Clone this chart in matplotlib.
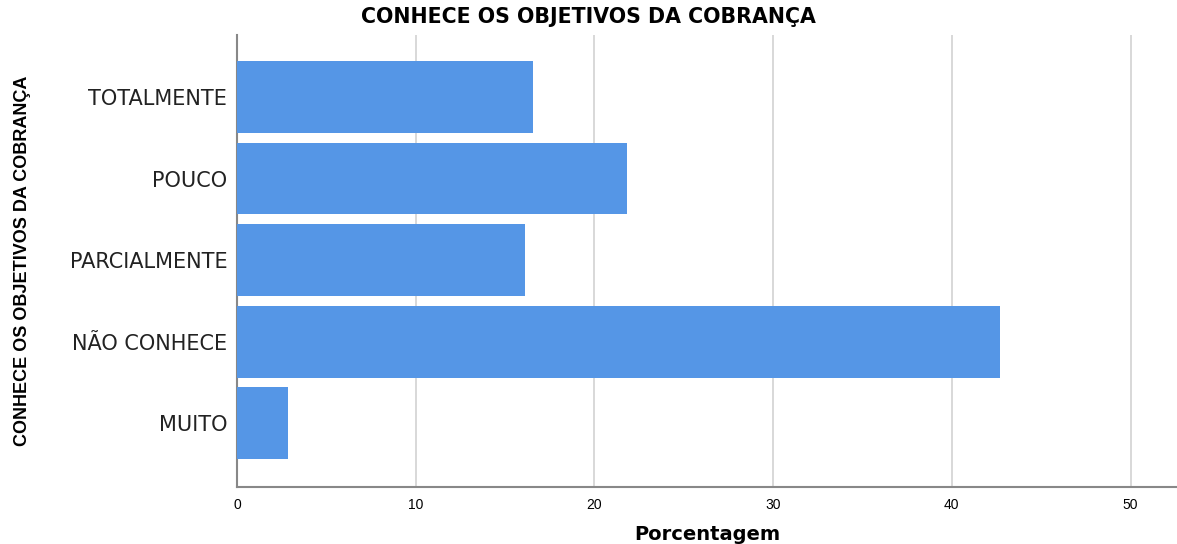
import matplotlib
matplotlib.use("Agg")
import matplotlib.pyplot as plt
from matplotlib import font_manager

categorias = ["MUITO", "NÃO CONHECE", "PARCIALMENTE", "POUCO", "TOTALMENTE"]
porcentagem = [2.85, 42.7, 16.1, 21.8, 16.55]

nomes = {f.name for f in font_manager.fontManager.ttflist}
estreita = 'Liberation Sans'
for nome in ['Liberation Sans Narrow', 'DejaVu Sans Condensed']:
    if nome in nomes:
        estreita = nome
        break

plt.rcParams['font.family'] = ['DejaVu Sans']

fig = plt.figure(figsize=(11.77, 5.44), dpi=100)
ax = fig.add_axes([0.2014, 0.1048, 0.7986, 0.8309])

ax.barh(categorias, porcentagem, height=0.88, color='#5596e6', zorder=3)

ax.set_xlim(0, 52.6)
ax.set_ylim(-0.78, 4.76)
ax.set_xticks([0, 10, 20, 30, 40, 50])
ax.grid(axis='x', color='#d2d2d2', linewidth=1.2, zorder=0)
ax.grid(axis='y', visible=False)

for s in ['top', 'right']:
    ax.spines[s].set_visible(False)
for s in ['left', 'bottom']:
    ax.spines[s].set_color('#888888')
    ax.spines[s].set_linewidth(1.5)

ax.tick_params(axis='y', length=0, pad=7, labelsize=15, labelcolor='#222222')
ax.tick_params(axis='x', length=0, pad=8, labelsize=10)
for t in ax.get_xticklabels():
    t.set_family('Liberation Sans')

ax.set_xlabel('Porcentagem', fontsize=14, fontweight='bold', labelpad=9)
ylab = ax.set_ylabel('CONHECE OS OBJETIVOS DA COBRANÇA', fontsize=13, fontweight='bold')
ylab.set_family(estreita)
if estreita != 'Liberation Sans':
    ylab.set_fontsize(14.5)
ax.yaxis.set_label_coords(-0.219, 0.5)
fig.suptitle('CONHECE OS OBJETIVOS DA COBRANÇA', fontsize=14.8, fontweight='bold',
             x=0.5, y=0.987, va='top')

fig.savefig('out.png', dpi=100)
